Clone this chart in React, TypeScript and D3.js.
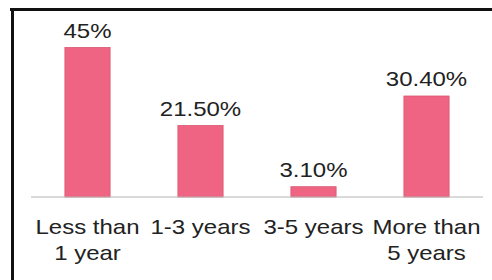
import React from "react";
import * as d3 from "d3";

const categories = ["Less than|1 year", "1-3 years", "3-5 years", "More than|5 years"];
const values = [45, 21.5, 3.1, 30.4];
const valueLabels = ["45%", "21.50%", "3.10%", "30.40%"];

const width = 492;
const height = 280;
const baseline = 197;
const barColor = "#ef6482";
const font = "'Liberation Sans', Arial, sans-serif";
const stretch = 1.2;

export default function App() {
  const x = d3.scaleBand<number>()
    .domain(d3.range(categories.length))
    .range([31, 483])
    .paddingInner(0.6)
    .paddingOuter(0.3);

  const y = d3.scaleLinear()
    .domain([0, 45])
    .range([baseline, 47.5]);

  const step = x.step();

  return (
    <svg width={width} height={height}
      style={{ position: "fixed", left: 0, top: 0, background: "#fff" }}>
      {/* frame, only top and left visible */}
      <line x1={10} x2={width} y1={9.5} y2={9.5} stroke="#111" strokeWidth={3} />
      <line x1={12.5} x2={12.5} y1={8} y2={height} stroke="#111" strokeWidth={3} />

      {values.map((v, i) => {
        const bx = x(i)!;
        const cx = bx + x.bandwidth() / 2;
        return (
          <g key={i}>
            <rect x={bx} y={y(v)} width={x.bandwidth()} height={baseline - y(v)}
              fill={barColor} stroke="#d9566f" strokeWidth={0.8} />
            <g transform={`translate(${cx},${y(v) - 10}) scale(${stretch},1)`}>
              <text textAnchor="middle" fontFamily={font} fontSize={20} fill="#222">
                {valueLabels[i]}
              </text>
            </g>
          </g>
        );
      })}

      <line x1={31} x2={483} y1={baseline} y2={baseline} stroke="#b5b5b5" strokeWidth={1.2} />

      {categories.map((c, i) => {
        const cx = x(i)! + x.bandwidth() / 2;
        return c.split("|").map((line, j) => (
          <g key={`${i}-${j}`} transform={`translate(${cx},${234 + j * 26}) scale(${stretch},1)`}>
            <text textAnchor="middle" fontFamily={font} fontSize={20} fill="#222">
              {line}
            </text>
          </g>
        ));
      })}
      {step > 0 ? null : null}
    </svg>
  );
}
